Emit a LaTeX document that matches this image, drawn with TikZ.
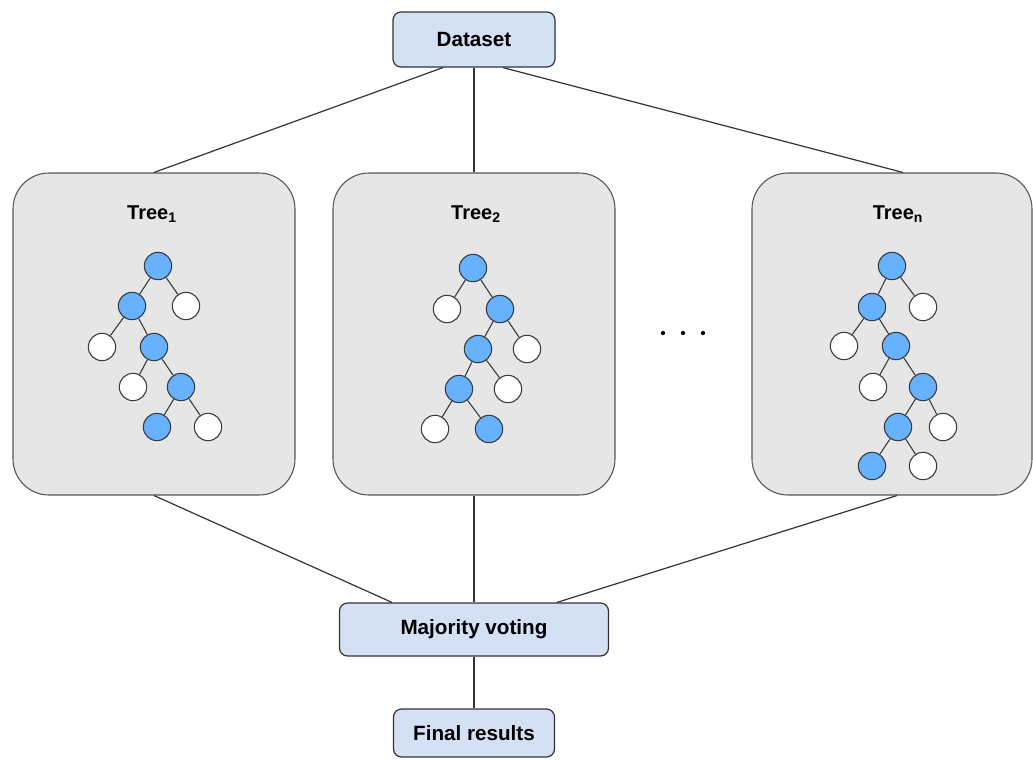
\documentclass[tikz,border=0pt]{standalone}
\usepackage{fontspec}
\setmainfont{Liberation Sans}
\definecolor{linec}{HTML}{333333}
\definecolor{boxblue}{HTML}{D4E1F5}
\definecolor{treegray}{HTML}{E6E6E6}
\definecolor{treeline}{HTML}{555555}
\definecolor{nodeblue}{HTML}{66B2FF}
\definecolor{nodec}{HTML}{36393D}
\begin{document}
\begin{tikzpicture}[x=0.75pt,y=-0.75pt,
  box/.style={draw=linec, fill=boxblue, rounded corners=6pt, line width=0.9pt,
    font=\bfseries\fontsize{15.5}{17}\selectfont, inner sep=0pt},
  treebox/.style={draw=treeline, fill=treegray, rounded corners=27pt, line width=0.8pt,
    minimum width=211.5pt, minimum height=241.5pt, inner sep=0pt},
  bn/.style={circle, draw=nodec, fill=nodeblue, minimum size=20.5pt, inner sep=0pt, line width=0.8pt},
  wn/.style={bn, fill=white},
  conn/.style={draw=linec, line width=0.9pt},
  tedge/.style={draw=nodec, line width=0.8pt},
  title/.style={font=\bfseries\fontsize{15}{17}\selectfont}]
\useasboundingbox (0,0) rectangle (1033,760);

% boxes
\node[box, minimum width=121.5pt, minimum height=41.25pt] (ds) at (474,39.5) {Dataset};
\node[treebox] (t1) at (154,334) {};
\node[treebox] (t2) at (474,334) {};
\node[treebox, minimum width=210pt] (tn) at (892,334) {};
\node[box, minimum width=201.75pt, minimum height=39.75pt] (mv) at (474,629.5) {Majority voting};
\node[box, minimum width=120.75pt, minimum height=36pt] (fr) at (474,733) {Final results};

% titles
\node[title] (h1) at (152,214) {Tree\textsubscript{1}};
\node[title] (h2) at (476,214) {Tree\textsubscript{2}};
\node[title] (hn) at (898,214) {Tree\textsubscript{n}};

% connectors
\draw[conn] ([xshift=-23.25pt]ds.south) -- (t1.north);
\draw[conn] (ds.south) -- (t2.north);
\draw[conn] ([xshift=21.75pt]ds.south) -- ([xshift=8.25pt]tn.north);
\draw[conn] (t1.south) -- ([xshift=-61.5pt]mv.north);
\draw[conn] (t2.south) -- (mv.north);
\draw[conn] ([xshift=3.75pt]tn.south) -- ([xshift=62.25pt]mv.north);
\draw[conn] (mv.south) -- (fr.north);

% dots
\fill[black] (663,333) circle (1.6pt);
\fill[black] (683,333) circle (1.6pt);
\fill[black] (703,333) circle (1.6pt);

% tree 1
\node[bn] (a1) at (158,266) {};
\node[bn] (a2) at (132,306) {};
\node[wn] (a3) at (186,306) {};
\node[wn] (a4) at (102,347) {};
\node[bn] (a5) at (154,347) {};
\node[wn] (a6) at (133,387) {};
\node[bn] (a7) at (181,387) {};
\node[bn] (a8) at (157,427) {};
\node[wn] (a9) at (208,427) {};
\draw[tedge] (a1) -- (a2) (a1) -- (a3) (a2) -- (a4) (a2) -- (a5)
  (a5) -- (a6) (a5) -- (a7) (a7) -- (a8) (a7) -- (a9);

% tree 2
\node[bn] (b1) at (473,268) {};
\node[wn] (b2) at (447,309) {};
\node[bn] (b3) at (500,309) {};
\node[bn] (b4) at (478,349) {};
\node[wn] (b5) at (527,349) {};
\node[bn] (b6) at (459,389) {};
\node[wn] (b7) at (508,389) {};
\node[wn] (b8) at (435,429) {};
\node[bn] (b9) at (489,429) {};
\draw[tedge] (b1) -- (b2) (b1) -- (b3) (b3) -- (b4) (b3) -- (b5)
  (b4) -- (b6) (b4) -- (b7) (b6) -- (b8) (b6) -- (b9);

% tree n
\node[bn] (c1) at (892,266) {};
\node[bn] (c2) at (872,307) {};
\node[wn] (c3) at (923,307) {};
\node[wn] (c4) at (844,346) {};
\node[bn] (c5) at (896,346) {};
\node[wn] (c6) at (873,387) {};
\node[bn] (c7) at (923,387) {};
\node[bn] (c8) at (898,427) {};
\node[wn] (c9) at (943,427) {};
\node[bn] (c10) at (872,466) {};
\node[wn] (c11) at (923,466) {};
\draw[tedge] (c1) -- (c2) (c1) -- (c3) (c2) -- (c4) (c2) -- (c5)
  (c5) -- (c6) (c5) -- (c7) (c7) -- (c8) (c7) -- (c9) (c8) -- (c10) (c8) -- (c11);
\end{tikzpicture}
\end{document}
